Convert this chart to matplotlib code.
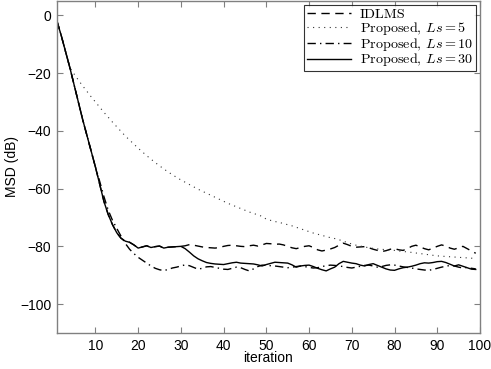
import matplotlib
matplotlib.use("Agg")
import matplotlib.pyplot as plt
import numpy as np

plt.rcParams['mathtext.fontset'] = 'cm'
plt.rcParams['font.family'] = ['Liberation Sans', 'DejaVu Sans']

iterations = list(range(1, 100))

shared = [-2, -7, -12.5, -18, -24, -30, -36, -41.5, -47, -52.5,
          -58.5, -64.5, -69, -72.5, -75.3, -77.2, -78.2, -78.6, -79.5, -80.6,
          -80.2, -79.8, -80.4, -80.1, -79.9, -80.6, -80.3, -80.2, -80.1, -80.0]

idlms = shared + [
    -79.8, -79.4, -79.6, -79.9, -80.2, -80.4, -80.5, -80.6, -80.4, -80.0,
    -79.7, -79.6, -79.8, -80.0, -80.1, -79.8, -79.6, -79.9, -79.5, -79.0,
    -79.1, -79.3, -79.2, -79.5, -80.0, -80.5, -80.8, -80.4, -80.0, -79.8,
    -80.4, -81.2, -81.6, -81.3, -80.9, -80.4, -79.6, -78.9, -79.4, -80.0,
    -80.3, -80.2, -80.1, -80.5, -81.0, -81.4, -81.8, -81.5, -81.0, -80.8,
    -81.2, -81.4, -80.8, -80.0, -79.6, -80.2, -80.8, -81.2, -80.6, -80.0,
    -79.5, -79.9, -80.6, -81.0, -80.5, -80.0, -80.8, -81.6, -82.4]

ls5 = shared[:4] + [
    -20.3, -22.4, -24.4, -26.3, -28.2, -30.0,
    -31.8, -33.6, -35.3, -37.0, -38.6, -40.2, -41.8, -43.2, -44.6, -46.0,
    -47.3, -48.6, -49.8, -51.0, -52.1, -53.2, -54.2, -55.2, -56.1, -57.0,
    -57.8, -58.6, -59.4, -60.2, -60.9, -61.6, -62.3, -63.0, -63.7, -64.4,
    -65.1, -65.7, -66.3, -66.9, -67.5, -68.1, -68.6, -69.1, -69.6, -70.6,
    -71.0, -71.4, -71.7, -72.1, -72.5, -72.9, -73.4, -73.9, -74.4, -74.9,
    -75.4, -75.8, -76.2, -76.6, -77.0, -77.3, -77.7, -78.2, -78.7, -79.2,
    -79.6, -79.9, -80.2, -80.5, -80.7, -80.9, -81.0, -81.2, -81.3, -81.4,
    -81.6, -81.8, -81.9, -82.1, -82.3, -82.5, -82.7, -82.9, -83.1, -83.3,
    -83.4, -83.5, -83.6, -83.7, -83.8, -83.9, -84.0, -84.1, -84.2]

ls10 = shared[:10] + [
    -57.5, -62.8, -67.5, -71.0, -73.8, -76.5, -79.0, -81.0, -82.5, -83.8,
    -84.8, -85.8, -86.8, -87.6, -88.1, -88.4, -88.0, -87.5, -87.2, -86.8,
    -86.4, -86.7, -87.3, -87.9, -87.6, -87.1, -87.0, -87.3, -87.6, -87.9,
    -88.0, -87.6, -87.2, -87.4, -88.0, -88.5, -87.8, -87.0, -86.5, -86.6,
    -86.7, -86.8, -87.0, -87.2, -87.4, -87.2, -87.0, -86.8, -87.0, -87.3,
    -87.5, -87.4, -87.0, -86.7, -86.5, -86.6, -86.8, -87.0, -87.3, -87.5,
    -87.2, -86.9, -86.6, -86.5, -86.8, -87.2, -87.0, -86.6, -86.4, -86.5,
    -86.8, -87.1, -87.3, -87.5, -87.8, -88.0, -88.2, -88.3, -88.0, -87.6,
    -87.2, -86.9, -86.6, -86.8, -87.2, -87.5, -87.3, -87.6, -87.8]

ls30 = shared + [
    -80.8, -82.0, -83.3, -84.3, -85.0, -85.6, -85.9, -86.1, -86.2, -86.3,
    -86.0, -85.7, -85.5, -85.8, -85.9, -86.0, -86.1, -86.4, -86.8, -86.3,
    -85.9, -85.5, -85.6, -85.7, -85.8, -86.4, -87.2, -86.8, -86.6, -86.5,
    -87.0, -87.6, -88.1, -88.5, -87.8, -87.2, -86.0, -85.2, -85.5, -85.8,
    -86.0, -86.5, -86.8, -86.3, -86.0, -86.6, -87.2, -87.8, -88.2, -88.3,
    -87.8, -87.4, -87.2, -86.9, -86.5, -86.0, -85.7, -85.8, -85.6, -85.3,
    -85.2, -85.6, -86.2, -86.8, -86.4, -86.9, -87.4, -87.9, -88.0]

labels = ['IDLMS',
          'Proposed, $Ls=5$',
          'Proposed, $Ls=10$',
          'Proposed, $Ls=30$']

xticks = [10, 20, 30, 40, 50, 60, 70, 80, 90, 100]
yticks = [0, -20, -40, -60, -80, -100]

fig = plt.figure(figsize=(4.91, 3.69), dpi=100)
ax = fig.add_axes([0.116, 0.0976, 0.8616, 0.9])

ax.plot(iterations, idlms, color='black', lw=1.0, linestyle=(0, (6, 4)), label=labels[0])
ax.plot(iterations, ls5, color='#333333', lw=0.8, linestyle=(0, (1, 4)), label=labels[1])
ax.plot(iterations, ls10, color='black', lw=1.0, linestyle=(0, (6, 3, 1, 3)), label=labels[2])
ax.plot(iterations, ls30, color='black', lw=1.0, linestyle='-', label=labels[3])

ax.set_xlim(1, 100)
ax.set_ylim(-110, 5)
ax.set_xticks(xticks)
ax.set_yticks(yticks)
ax.tick_params(direction='in', top=True, right=True, length=4, width=0.8,
               color='#808080', labelsize=10, pad=4)
for s in ax.spines.values():
    s.set_color('#808080')
    s.set_linewidth(1.0)
ax.set_xlabel('iteration', fontsize=10, labelpad=-1)
ax.set_ylabel('MSD (dB)', fontsize=10, labelpad=1)

leg = ax.legend(loc='upper right', prop={'family': 'cmr10', 'size': 10.2},
                frameon=True, fancybox=False,
                edgecolor='black', handlelength=3.1, borderaxespad=0.3,
                borderpad=0.2, labelspacing=-0.08, handletextpad=0.6)
leg.get_frame().set_linewidth(0.8)

fig.savefig('out.png', dpi=100)
